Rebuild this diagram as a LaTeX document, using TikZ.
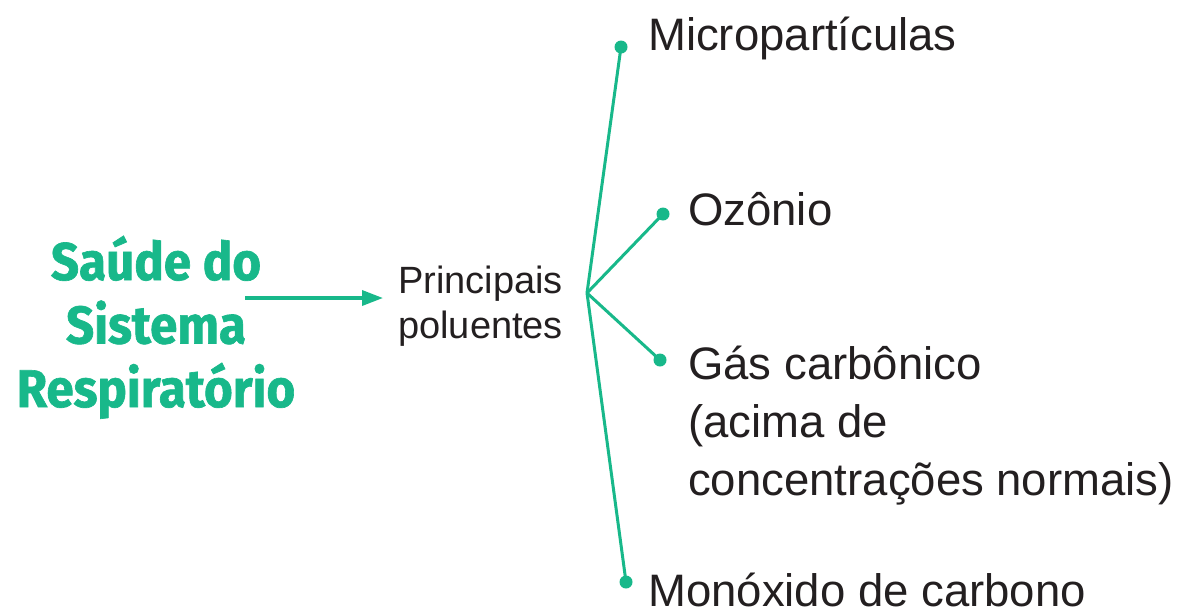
\documentclass[tikz,border=0pt]{standalone}
\usepackage{fontspec}
\setmainfont{Liberation Sans}
\newfontfamily\titlefont{Fira Sans}[FakeStretch=0.93, BoldFeatures={FakeBold=1.2}]
\usepackage{tikz}
\usetikzlibrary{arrows.meta,positioning}
\definecolor{rsGreen}{HTML}{18B88A}
\definecolor{rsText}{HTML}{231F20}
\tikzset{
  title/.style={font=\titlefont\bfseries\fontsize{53}{63.5}\selectfont, text=rsGreen, align=center, inner sep=0pt},
  mid/.style={font=\fontsize{38}{45}\selectfont, text=rsText, align=left, inner sep=0pt},
  item/.style={font=\fontsize{45.5}{58}\selectfont, text=rsText, align=left, inner sep=0pt, anchor=base west},
  dot/.style={circle, fill=rsGreen, inner sep=0pt, minimum size=13pt},
  branch/.style={line width=3pt, rsGreen},
  lead/.style={-{Triangle[length=21pt,width=15pt]}, line width=3.5pt, rsGreen}
}
\begin{document}
\begin{tikzpicture}[x=1pt, y=-1pt]
  \useasboundingbox (0,0) rectangle (1193,611);
  % left title and middle text
  \node[title, anchor=base] (saude) at (156,407) {Saúde do\\Sistema\\Respiratório};
  \node[mid, anchor=base west] (polu) at (398,338) {Principais\\poluentes};
  \coordinate (start) at (245,298);
  \coordinate (hub) at (587,293);
  \draw[lead] (start) -- (383,298);
  % branches
  \node[dot] (d1) at (621,47) {};
  \node[dot] (d2) at (663,214) {};
  \node[dot] (d3) at (660,360) {};
  \node[dot] (d4) at (626,582) {};
  \foreach \d in {d1,d2,d3,d4}
    \draw[branch] (hub) -- (\d.center);
  % labels
  \node[item] (micro) at (648,50) {Micropartículas};
  \node[item] (ozon) at (688,225) {Ozônio};
  \node[item] (gas) at (688,495) {Gás carbônico\\(acima de\\concentrações normais)};
  \node[item] (mono) at (648,606) {Monóxido de carbono};
\end{tikzpicture}
\end{document}
